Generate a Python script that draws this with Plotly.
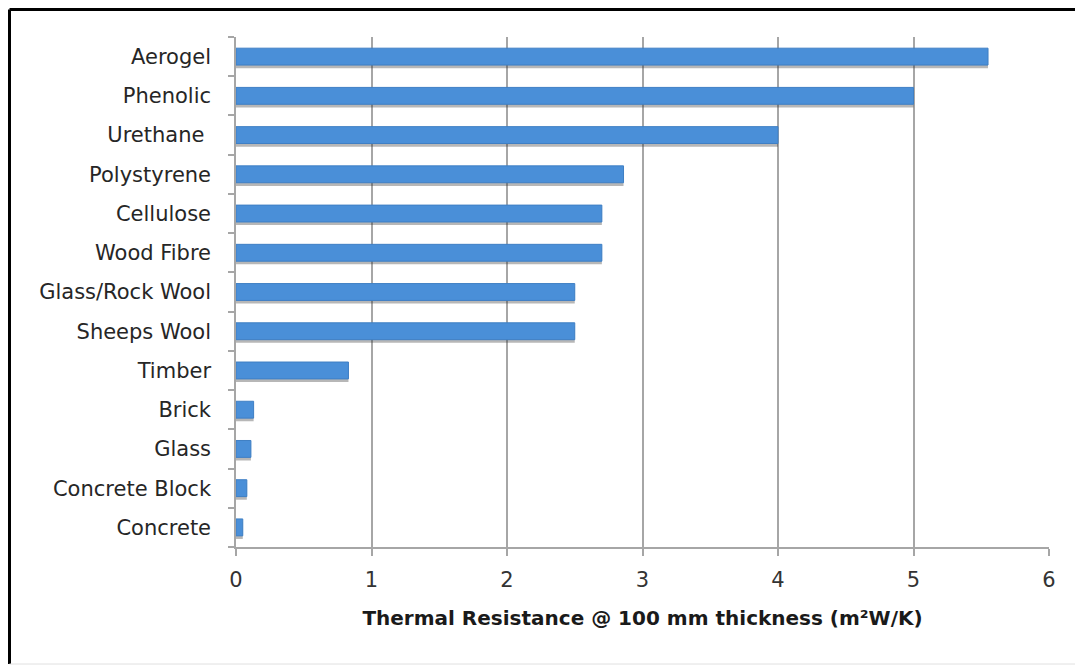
import plotly.graph_objects as go

categories = ["Concrete", "Concrete Block", "Glass", "Brick", "Timber", "Sheeps Wool",
              "Glass/Rock Wool", "Wood Fibre", "Cellulose", "Polystyrene", "Urethane ",
              "Phenolic", "Aerogel"]
values = [0.05, 0.08, 0.11, 0.13, 0.83, 2.5, 2.5, 2.7, 2.7, 2.86, 4.0, 5.0, 5.55]
x_ticks = [0, 1, 2, 3, 4, 5, 6]
x_title = "Thermal Resistance @ 100 mm thickness (m²W/K)"

# page body has an 8px margin, so figure coordinates are shifted by 8px
OFF = 8
W, H = 1083, 666
L, R, T, B = 236 - OFF, 34 + OFF, 37 - OFF, 119 + OFF
pw, ph = W - L - R, H - T - B

def px_x(p):
    return (p - OFF - L) / pw

def px_y(p):
    return (H - B - (p - OFF)) / ph

bar_w = 0.43
fig = go.Figure()
# soft shadow
fig.add_trace(go.Bar(
    y=categories, x=values, orientation="h",
    width=bar_w, offset=-bar_w / 2 - 0.08,
    marker=dict(color="rgba(50,50,50,0.35)", line=dict(width=0)),
    hoverinfo="skip", showlegend=False,
))
fig.add_trace(go.Bar(
    y=categories, x=values, orientation="h",
    width=bar_w, offset=-bar_w / 2,
    marker=dict(color="#4A8FD8", line=dict(color="#3F7FC4", width=1)),
    showlegend=False,
))

fig.update_layout(
    width=W, height=H,
    margin=dict(l=L, r=R, t=T, b=B, autoexpand=False),
    paper_bgcolor="white", plot_bgcolor="white",
    barmode="overlay",
    font=dict(family="'DejaVu Sans', sans-serif", color="#262626"),
    xaxis=dict(
        range=[0, 6], tickvals=x_ticks, ticktext=[str(v) for v in x_ticks],
        showgrid=True, gridcolor="#A6A6A6", gridwidth=1.5,
        showline=True, linecolor="#A6A6A6", linewidth=1.5,
        ticks="outside", ticklen=7, tickcolor="#A6A6A6", tickwidth=1.5,
        tickfont=dict(size=21, color="#333333"),
        ticklabelstandoff=6,
        zeroline=False,
        title=dict(text=x_title, font=dict(size=20, color="#1a1a1a", weight="bold"), standoff=20),
    ),
    yaxis=dict(
        type="category", categoryorder="array", categoryarray=categories,
        showline=True, linecolor="#A6A6A6", linewidth=1.5,
        ticks="outside", ticklen=6, tickcolor="#A6A6A6", tickwidth=1.5,
        tickson="boundaries",
        tickfont=dict(size=21, color="#262626"),
        ticklabelstandoff=19,
        range=[-0.5, len(categories) - 0.5],
        showgrid=False,
    ),
    shapes=[
        dict(type="line", xref="paper", yref="paper",
             x0=px_x(9.5), x1=px_x(1100), y0=px_y(9.5), y1=px_y(9.5),
             line=dict(color="black", width=3)),
        dict(type="line", xref="paper", yref="paper",
             x0=px_x(9.5), x1=px_x(9.5), y0=px_y(9.5), y1=px_y(664),
             line=dict(color="black", width=3)),
        dict(type="line", xref="paper", yref="paper",
             x0=px_x(9.5), x1=px_x(1100), y0=px_y(664), y1=px_y(664),
             line=dict(color="#E0E0E0", width=1)),
    ],
)

fig.write_html("out.html")
